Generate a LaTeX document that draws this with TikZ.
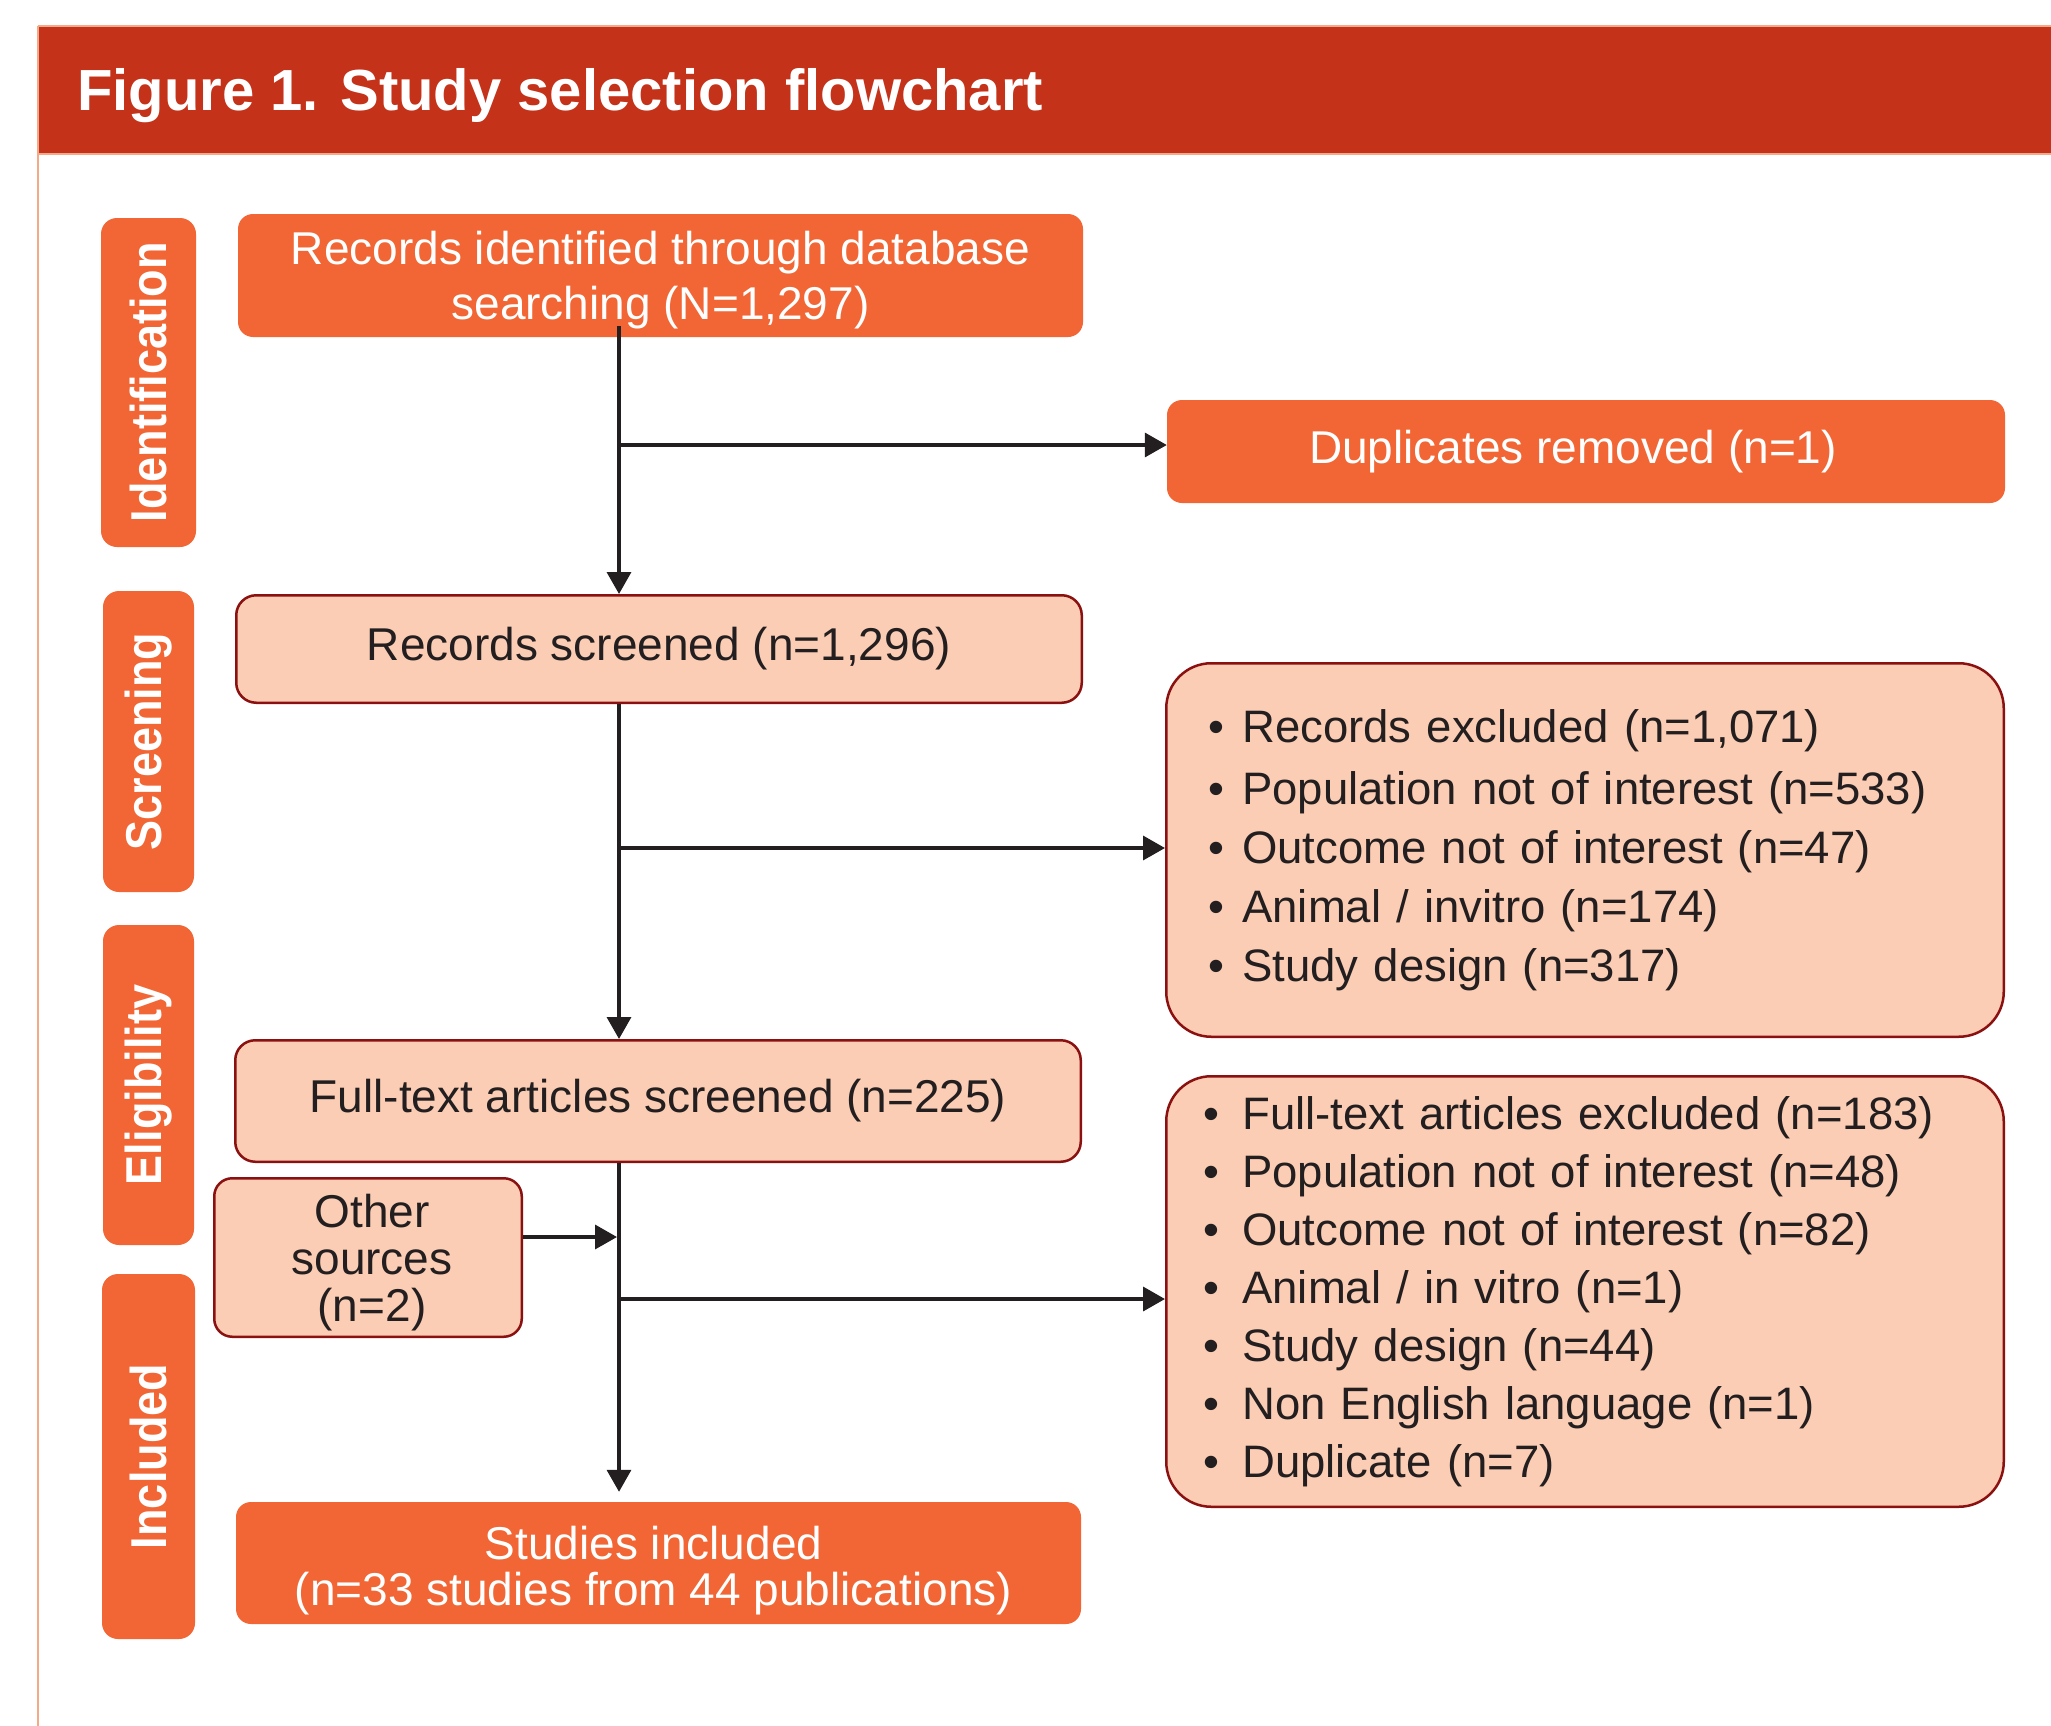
\documentclass[tikz,border=0pt]{standalone}
\usepackage{fontspec}
\setmainfont{Liberation Sans}
\usepackage{graphicx}
\usetikzlibrary{arrows.meta}
\definecolor{hdrred}{HTML}{C4321A}
\definecolor{hdrline}{HTML}{F5AA87}
\definecolor{orng}{HTML}{F16634}
\definecolor{pch}{HTML}{FBCDB4}
\definecolor{bdr}{HTML}{8B1010}
\definecolor{ink}{HTML}{231F20}
\begin{document}
\begin{tikzpicture}[x=1pt,y=-1pt,
  orangebox/.style={rectangle, rounded corners=15pt, fill=orng, text=white, inner sep=0pt, align=center, font=\fontsize{46}{55}\selectfont},
  peachbox/.style={rectangle, rounded corners=20pt, fill=pch, draw=bdr, line width=2.5pt, text=ink, inner sep=0pt, align=center, font=\fontsize{46}{47}\selectfont},
  exclbox/.style={rectangle, rounded corners=45pt, fill=pch, draw=bdr, line width=2.5pt, text=ink, inner ysep=0pt, align=left, font=\fontsize{45.5}{59}\selectfont},
  phase/.style={rectangle, rounded corners=16pt, fill=orng, text=white, inner sep=0pt, rotate=90, font=\fontsize{45}{45}\selectfont\bfseries},
  arr/.style={draw=ink, line width=3.5pt, -{Triangle[length=22pt,width=24pt]}},
]
\useasboundingbox (0,0) rectangle (2051,1726);
% header
\fill[hdrred] (38,26) rectangle (2051,154);
\draw[hdrline, line width=2.5pt] (38,26) -- (2051,26) (38,154) -- (2051,154) (38,26) -- (38,1726);
\node[anchor=base west, text=white, inner sep=0pt, font=\fontsize{58}{58}\selectfont\bfseries] (title) at (77,111) {Figure 1. Study selection flowchart};
% phase labels
\node[phase, minimum width=329pt, minimum height=95pt] (lid) at (148.5,382.5) {\scalebox{1}[1.12]{Identification}};
\node[phase, minimum width=301pt, minimum height=91pt] (lsc) at (148.5,741.5) {\scalebox{1}[1.12]{Screening}};
\node[phase, minimum width=320pt, minimum height=91pt] (lel) at (148.5,1085) {\scalebox{1}[1.12]{Eligibility}};
\node[phase, minimum width=365pt, minimum height=93pt] (lin) at (148.5,1456.5) {\scalebox{1}[1.12]{Included}};
% boxes
\node[orangebox, minimum width=845pt, minimum height=123pt] (A) at (660.5,275.5) {\rule{0pt}{43pt}Records identified through database\\searching (N=1,297)};
\node[orangebox, minimum width=838pt, minimum height=103pt] (dup) at (1586,451.5) {Duplicates removed (n=1)\hspace*{26pt}};
\node[peachbox, minimum width=845.5pt, minimum height=107.5pt] (B) at (659,649) {Records screened (n=1,296)};
\node[peachbox, minimum width=845.5pt, minimum height=121.5pt] (C) at (658,1101) {Full-text articles screened (n=225)};
\node[peachbox, minimum width=307.5pt, minimum height=158.5pt, rounded corners=18pt] (O) at (368,1257.5) {\rule{0pt}{44pt}\hspace*{8pt}Other\\\hspace*{8pt}sources\\\hspace*{8pt}(n=2)};
\node[orangebox, minimum width=845pt, minimum height=122pt, font=\fontsize{46}{46}\selectfont] (D) at (658.5,1563) {\rule{0pt}{49pt}Studies included\hspace*{10pt}\\(n=33 studies from 44 publications)\hspace*{10pt}};
\node[exclbox, minimum width=837.5pt, minimum height=373.5pt, inner xsep=42pt, text width=753.5pt] (E1) at (1585,850) {%
\makebox[34pt][l]{•}Records excluded (n=1,071)\\[3pt]
\makebox[34pt][l]{•}Population not of interest (n=533)\\
\makebox[34pt][l]{•}Outcome not of interest (n=47)\\
\makebox[34pt][l]{•}Animal / invitro (n=174)\\
\makebox[34pt][l]{•}Study design (n=317)};
\node[exclbox, minimum width=837.5pt, minimum height=430.5pt, inner xsep=37pt, text width=763.5pt, font=\fontsize{45.5}{58}\selectfont] (E2) at (1585,1291.5) {%
\makebox[39pt][l]{•}Full-text articles excluded (n=183)\\
\makebox[39pt][l]{•}Population not of interest (n=48)\\
\makebox[39pt][l]{•}Outcome not of interest (n=82)\\
\makebox[39pt][l]{•}Animal / in vitro (n=1)\\
\makebox[39pt][l]{•}Study design (n=44)\\
\makebox[39pt][l]{•}Non English language (n=1)\\
\makebox[39pt][l]{•}Duplicate (n=7)};
% connectors
\coordinate (tx) at (619,0);
\coordinate (tA) at (A.south -| tx);
\coordinate (tD) at (D.north -| tx);
\coordinate (j1) at (619,445);
\coordinate (j2) at (619,848);
\coordinate (j3) at (619,1237);
\coordinate (j4) at (619,1299);
\draw[arr] ([yshift=11pt]tA) -- (B.north -| tx);
\draw[arr] (B.south -| tx) -- (C.north -| tx);
\draw[arr] (C.south -| tx) -- ([yshift=10pt]tD);
\draw[arr] (j1) -- (j1 -| dup.west);
\draw[arr] (j2) -- (j2 -| E1.west);
\draw[arr] (j4) -- (j4 -| E2.west);
\draw[arr] (j3 -| O.east) -- ([xshift=-2pt]j3);
\end{tikzpicture}
\end{document}
